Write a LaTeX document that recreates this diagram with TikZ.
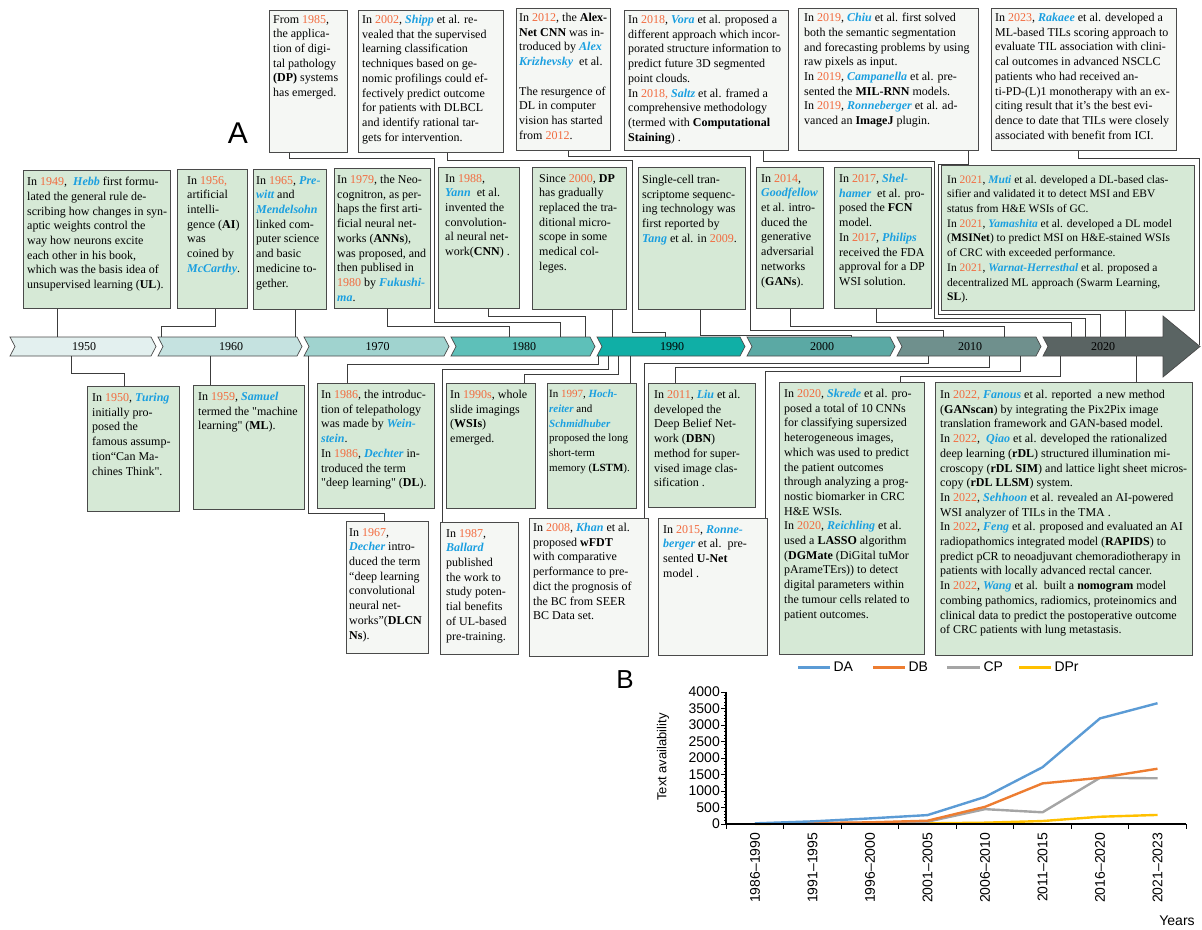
\documentclass[tikz,border=0pt]{standalone}
\usepackage{fontspec}
\setmainfont{Liberation Serif}
\newfontfamily\chartfont{Liberation Sans}
\definecolor{yearred}{HTML}{F26B3F}
\definecolor{nameblue}{HTML}{1A9FE0}
\definecolor{boxgreen}{HTML}{D6E9D6}
\definecolor{boxwhite}{HTML}{F5F7F4}
\definecolor{boxline}{HTML}{4A4A4A}
\definecolor{connline}{HTML}{3C3C3C}
\definecolor{c1950}{HTML}{E3F0EF}
\definecolor{c1960}{HTML}{C5E2E0}
\definecolor{c1970}{HTML}{A0D3CF}
\definecolor{c1980}{HTML}{5EC0B9}
\definecolor{c1990}{HTML}{10AFA6}
\definecolor{c2000}{HTML}{5BA9A4}
\definecolor{c2010}{HTML}{6F908D}
\definecolor{c2020}{HTML}{5A6463}
\definecolor{da}{HTML}{5B9BD5}
\definecolor{db}{HTML}{ED7D31}
\definecolor{cp}{HTML}{A5A5A5}
\definecolor{dpr}{HTML}{FFC000}
\newcommand{\yr}[1]{{\color{yearred}#1}}
\newcommand{\nm}[1]{{\color{nameblue}\bfseries\itshape #1}}

\begin{document}
\begin{tikzpicture}[x=1pt,y=-1pt,
  wbox/.style={draw=boxline, fill=boxwhite, line width=1.1pt, inner sep=0pt, anchor=north west},
  gbox/.style={draw=boxline, fill=boxgreen, line width=1.1pt, inner sep=0pt, anchor=north west},
  txt/.style={anchor=north west, align=left, inner sep=0pt, font=\fontsize{12}{14.7}\selectfont},
  conn/.style={draw=connline, line width=0.9pt},
  chev/.style={draw=boxline, line width=0.7pt},
  yearlab/.style={font=\fontsize{12}{14}\selectfont, inner sep=0pt}]
\useasboundingbox (0,0) rectangle (1202,929);

\node[font=\chartfont\fontsize{30}{32}\selectfont] (lblA) at (238,133) {A};
\node[font=\chartfont\fontsize{26}{28}\selectfont] (lblB) at (625,680) {B};

\foreach \s/\n/\lab in {10/158/1950, 158/304/1960, 304/451/1970, 451/597/1980, 597/747/1990, 747/897/2000, 897/1043/2010}{
  \draw[chev, fill=c\lab] (\s,337) -- (\n-7,337) -- (\n-2,346.5) -- (\n-7,356) -- (\s,356) -- (\s+5,346.5) -- cycle;
  \node[yearlab] (d\lab) at ({(\s+\n)/2},347) {\lab};
}
\draw[chev, fill=c2020] (1043,337) -- (1163,337) -- (1163,316) -- (1200,346.5) -- (1163,377) -- (1163,356) -- (1043,356) -- (1048,346.5) -- cycle;
\node[yearlab] (d2020) at (1103,347) {2020};

\coordinate (e1949) at (57,337);
\coordinate (e1956) at (161,337);
\coordinate (e1965) at (295,337);
\coordinate (e1979) at (509,337);
\coordinate (e1985) at (560,337);
\coordinate (e1988) at (585,337);
\coordinate (e2000) at (612,337);
\coordinate (e2002) at (665,337);
\coordinate (e2009) at (851,337);
\coordinate (e2012) at (943,337);
\coordinate (e2014) at (1004,337);
\coordinate (e2017) at (1071,337);
\coordinate (e2018) at (1085,337);
\coordinate (e2019) at (1100,337);
\coordinate (e2021) at (1125,337);
\coordinate (e2023) at (1199,345);
\coordinate (f1950) at (71,356);
\coordinate (f1959) at (210,356);
\coordinate (f1967) at (308,356);
\coordinate (f1986) at (598,356);
\coordinate (f1987) at (608,356);
\coordinate (f1990) at (618,356);
\coordinate (f1997) at (630,356);
\coordinate (f2008) at (928,356);
\coordinate (f2011) at (989,356);
\coordinate (f2015) at (1020,356);
\coordinate (f2020) at (1060,356);
\coordinate (f2022) at (1136,356);

\node[wbox, minimum width=78pt, minimum height=142pt] (t1) at (269,10) {};
\node[txt] (t1x) at ([shift={(4pt,-5pt)}]t1.north west) {From \yr{1985},\\the applica-\\tion of digi-\\tal pathology\\\textbf{(DP)} systems\\has emerged.};
\node[wbox, minimum width=145pt, minimum height=142pt] (t2) at (358,10) {};
\node[txt] (t2x) at ([shift={(4pt,-5pt)}]t2.north west) {In \yr{2002}, \nm{Shipp} et al. re-\\vealed that the supervised\\learning classification\\techniques based on ge-\\nomic profilings could ef-\\fectively predict outcome\\for patients with DLBCL\\and identify rational tar-\\gets for intervention.};
\node[wbox, minimum width=94pt, minimum height=142pt] (t3) at (516,8) {};
\node[txt] (t3x) at ([shift={(3pt,-5pt)}]t3.north west) {In \yr{2012}, the \textbf{Alex-}\\\textbf{Net CNN} was in-\\troduced by \nm{Alex}\\\nm{Krizhevsky}\ \ et al.\\[14.7pt]The resurgence of\\DL in computer\\vision has started\\from \yr{2012}.};
\node[wbox, minimum width=164pt, minimum height=140pt] (t4) at (624,10) {};
\node[txt] (t4x) at ([shift={(4pt,-5pt)}]t4.north west) {In \yr{2018}, \nm{Vora} et al. proposed a\\different approach which incor-\\porated structure information to\\predict future 3D segmented\\point clouds.\\In \yr{2018,} \nm{Saltz} et al. framed a\\comprehensive methodology\\(termed with \textbf{Computational}\\\textbf{Staining}) .};
\node[wbox, minimum width=180pt, minimum height=142pt] (t5) at (798,8) {};
\node[txt] (t5x) at ([shift={(6pt,-5pt)}]t5.north west) {In \yr{2019}, \nm{Chiu} et al. first solved\\both the semantic segmentation\\and forecasting problems by using\\raw pixels as input.\\In \yr{2019}, \nm{Campanella} et al. pre-\\sented the \textbf{MIL-RNN} models.\\In \yr{2019}, \nm{Ronneberger} et al. ad-\\vanced an \textbf{ImageJ} plugin.};
\node[wbox, minimum width=185pt, minimum height=142pt] (t6) at (991,8) {};
\node[txt] (t6x) at ([shift={(4pt,-5pt)}]t6.north west) {In \yr{2023}, \nm{Rakaee} et al. developed a\\ML-based TILs scoring approach to\\evaluate TIL association with clini-\\cal outcomes in advanced NSCLC\\patients who had received an-\\ti-PD-(L)1 monotherapy with an ex-\\citing result that it's the best evi-\\dence to date that TILs were closely\\associated with benefit from ICI.};

\node[gbox, minimum width=147pt, minimum height=138pt] (m1) at (23,170) {};
\node[txt] (m1x) at ([shift={(4pt,-7pt)}]m1.north west) {In \yr{1949},\ \ \nm{Hebb} first formu-\\lated the general rule de-\\scribing how changes in syn-\\aptic weights control the\\way how neurons excite\\each other in his book,\\which was the basis idea of\\unsupervised learning (\textbf{UL}).};
\node[gbox, minimum width=70pt, minimum height=139pt] (m2) at (177,169) {};
\node[txt] (m2x) at ([shift={(10pt,-7pt)}]m2.north west) {In \yr{1956,}\\artificial\\intelli-\\gence (\textbf{AI})\\was\\coined by\\\nm{McCarthy}.};
\node[gbox, minimum width=73pt, minimum height=140pt] (m3) at (253,169) {};
\node[txt] (m3x) at ([shift={(3pt,-7pt)}]m3.north west) {In \yr{1965}, \nm{Pre-}\\\nm{witt} and\\\nm{Mendelsohn}\\linked com-\\puter science\\and basic\\medicine to-\\gether.};
\node[gbox, minimum width=96pt, minimum height=140pt] (m4) at (334,168) {};
\node[txt] (m4x) at ([shift={(3pt,-7pt)}]m4.north west) {In \yr{1979}, the Neo-\\cognitron, as per-\\haps the first arti-\\ficial neural net-\\works (\textbf{ANNs}),\\was proposed, and\\then publised in\\\yr{1980} by \nm{Fukushi-}\\\nm{ma}.};
\node[gbox, minimum width=81pt, minimum height=141pt] (m5) at (438,167) {};
\node[txt] (m5x) at ([shift={(7pt,-7pt)}]m5.north west) {In \yr{1988},\\\nm{Yann}\ \ et al.\\invented the\\convolution-\\al neural net-\\work(\textbf{CNN}) .};
\node[gbox, minimum width=94pt, minimum height=142pt] (m6) at (532,167) {};
\node[txt] (m6x) at ([shift={(7pt,-7pt)}]m6.north west) {Since \yr{2000}, \textbf{DP}\\has gradually\\replaced the tra-\\ditional micro-\\scope in some\\medical col-\\leges.};
\node[gbox, minimum width=107pt, minimum height=142pt] (m7) at (638,167) {};
\node[txt] (m7x) at ([shift={(4pt,-8pt)}]m7.north west) {Single-cell tran-\\scriptome sequenc-\\ing technology was\\first reported by\\\nm{Tang} et al. in \yr{2009}.};
\node[gbox, minimum width=67pt, minimum height=141pt] (m8) at (756,167) {};
\node[txt] (m8x) at ([shift={(5pt,-7pt)}]m8.north west) {In \yr{2014},\\\nm{Goodfellow}\\et al. intro-\\duced the\\generative\\adversarial\\networks\\(\textbf{GANs}).};
\node[gbox, minimum width=97pt, minimum height=141pt] (m9) at (834,167) {};
\node[txt] (m9x) at ([shift={(5pt,-7pt)}]m9.north west) {In \yr{2017}, \nm{Shel-}\\\nm{hamer}\ \ et al. pro-\\posed the \textbf{FCN}\\model.\\In \yr{2017}, \nm{Philips}\\received the FDA\\approval for a DP\\WSI solution.};
\node[gbox, minimum width=253pt, minimum height=145pt] (m10) at (941,165) {};
\node[txt, font=\fontsize{11.5}{14.7}\selectfont] (m10x) at ([shift={(6pt,-10pt)}]m10.north west) {In \yr{2021}, \nm{Muti} et al. developed a DL-based clas-\\sifier and validated it to detect MSI and EBV\\status from H\&E WSIs of GC.\\In \yr{2021}, \nm{Yamashita} et al. developed a DL model\\(\textbf{MSINet}) to predict MSI on H\&E-stained WSIs\\of CRC with exceeded performance.\\In \yr{2021}, \nm{Warnat-Herresthal} et al. proposed a\\decentralized ML approach (Swarm Learning,\\\textbf{SL}).};

\node[gbox, minimum width=92pt, minimum height=125pt] (b1) at (87,386) {};
\node[txt] (b1x) at ([shift={(5pt,-7pt)}]b1.north west) {In \yr{1950}, \nm{Turing}\\initially pro-\\posed the\\famous assump-\\tion“Can Ma-\\chines Think\textquotedbl.};
\node[gbox, minimum width=111pt, minimum height=124pt] (b2) at (193,385) {};
\node[txt] (b2x) at ([shift={(5pt,-7pt)}]b2.north west) {In \yr{1959}, \nm{Samuel}\\termed the \textquotedbl machine\\learning\textquotedbl\ (\textbf{ML}).};
\node[gbox, minimum width=117pt, minimum height=125pt] (b3) at (317,383) {};
\node[txt] (b3x) at ([shift={(4pt,-7pt)}]b3.north west) {In \yr{1986}, the introduc-\\tion of telepathology\\was made by \nm{Wein-}\\\nm{stein}.\\In \yr{1986}, \nm{Dechter} in-\\troduced the term\\\textquotedbl deep learning\textquotedbl\ (\textbf{DL}).};
\node[gbox, minimum width=89pt, minimum height=125pt] (b4) at (446,383) {};
\node[txt] (b4x) at ([shift={(4pt,-7pt)}]b4.north west) {In \yr{1990s}, whole\\slide imagings\\(\textbf{WSIs})\\emerged.};
\node[gbox, minimum width=89pt, minimum height=125pt] (b5) at (547,383) {};
\node[txt, font=\fontsize{11}{14.7}\selectfont] (b5x) at ([shift={(2pt,-7pt)}]b5.north west) {In \yr{1997}, \nm{Hoch-}\\\nm{reiter} and\\\nm{Schmidhuber}\\proposed the long\\short-term\\memory (\textbf{LSTM}).};
\node[gbox, minimum width=107pt, minimum height=124pt] (b6) at (648,383) {};
\node[txt] (b6x) at ([shift={(6pt,-7pt)}]b6.north west) {In \yr{2011}, \nm{Liu} et al.\\developed the\\Deep Belief Net-\\work (\textbf{DBN})\\method for super-\\vised image clas-\\sification .};
\node[gbox, minimum width=145pt, minimum height=272pt] (b7) at (779,382) {};
\node[txt] (b7x) at ([shift={(5pt,-7pt)}]b7.north west) {In \yr{2020}, \nm{Skrede} et al. pro-\\posed a total of 10 CNNs\\for classifying supersized\\heterogeneous images,\\which was used to predict\\the patient outcomes\\through analyzing a prog-\\nostic biomarker in CRC\\H\&E WSIs.\\In \yr{2020}, \nm{Reichling} et al.\\used a \textbf{LASSO} algorithm\\(\textbf{DGMate} (DiGital tuMor\\pArameTErs)) to detect\\digital parameters within\\the tumour cells related to\\patient outcomes.};
\node[gbox, minimum width=257pt, minimum height=273pt] (b8) at (935,382) {};
\node[txt] (b8x) at ([shift={(5pt,-8pt)}]b8.north west) {In \yr{2022,} \nm{Fanous} et al. reported\ \ a new method\\(\textbf{GANscan}) by integrating the Pix2Pix image\\translation framework and GAN-based model.\\In \yr{2022},\ \ \nm{Qiao} et al. developed the rationalized\\deep learning (\textbf{rDL}) structured illumination mi-\\croscopy (\textbf{rDL SIM}) and lattice light sheet micros-\\copy (\textbf{rDL LLSM}) system.\\In \yr{2022}, \nm{Sehhoon} et al. revealed an AI-powered\\WSI analyzer of TILs in the TMA .\\In \yr{2022}, \nm{Feng} et al. proposed and evaluated an AI\\radiopathomics integrated model (\textbf{RAPIDS}) to\\predict pCR to neoadjuvant chemoradiotherapy in\\patients with locally advanced rectal cancer.\\In \yr{2022}, \nm{Wang} et al.\ \ built a \textbf{nomogram} model\\combing pathomics, radiomics, proteinomics and\\clinical data to predict the postoperative outcome\\of CRC patients with lung metastasis.};

\node[wbox, minimum width=82pt, minimum height=132pt] (l1) at (346,521) {};
\node[txt] (l1x) at ([shift={(3pt,-7pt)}]l1.north west) {In \yr{1967},\\\nm{Decher} intro-\\duced the term\\“deep learning\\convolutional\\neural net-\\works”(\textbf{DLCN}\\\textbf{Ns}).};
\node[wbox, minimum width=78pt, minimum height=132pt] (l2) at (440,522) {};
\node[txt] (l2x) at ([shift={(6pt,-7pt)}]l2.north west) {In \yr{1987},\\\nm{Ballard}\\published\\the work to\\study poten-\\tial benefits\\of UL-based\\pre-training.};
\node[wbox, minimum width=119pt, minimum height=138pt] (l3) at (529,518) {};
\node[txt] (l3x) at ([shift={(4pt,-5pt)}]l3.north west) {In \yr{2008}, \nm{Khan} et al.\\proposed \textbf{wFDT}\\with comparative\\performance to pre-\\dict the prognosis of\\the BC from SEER\\BC Data set.};
\node[wbox, minimum width=109pt, minimum height=137pt] (l4) at (658,518) {};
\node[txt] (l4x) at ([shift={(5pt,-7pt)}]l4.north west) {In \yr{2015}, \nm{Ronne-}\\\nm{berger} et al.\ \ pre-\\sented \textbf{U-Net}\\model .};

\draw[conn] ([xshift=20pt]t1.south west) -- ++(0,5) -| ++(145,164) -| (e1985);
\draw[conn] ([xshift=89pt]t2.south west) -- ++(0,7) -| ++(185,172) -| (e2002);
\draw[conn] ([xshift=52pt]t3.south west) -- ++(0,5) -| ++(182,174) -| (e2012);
\draw[conn] ([xshift=139pt]t4.south west) -- ++(0,10) -| ++(171,157) -| (e2018);
\draw[conn] ([xshift=170pt]t5.south west) -- ++(0,13) -| ++(-30,150) -| (e2019);
\draw[conn] ([xshift=87pt]t6.south west) -- ++(0,7) -| (e2023);
\draw[conn] ([xshift=34pt]m1.south west) -- (e1949);
\draw[conn] ([xshift=38pt]m2.south west) -- ++(0,17) -| (e1956);
\draw[conn] ([xshift=42pt]m3.south west) -- (e1965);
\draw[conn] ([xshift=53pt]m4.south west) -- ++(0,17) -| (e1979);
\draw[conn] ([xshift=50pt]m5.south west) -- ++(0,7) -| (e1988);
\draw[conn] ([xshift=80pt]m6.south west) -- (e2000);
\draw[conn] ([xshift=62pt]m7.south west) -- ++(0,25) -| (e2009);
\draw[conn] ([xshift=34pt]m8.south west) -- ++(0,17) -| (e2014);
\draw[conn] ([xshift=42pt]m9.south west) -- ++(0,13) -| (e2017);
\draw[conn] ([xshift=184pt]m10.south west) -- (e2021);
\draw[conn] ([xshift=37pt]b1.north west) -- ++(0,-13) -| (f1950);
\draw[conn] ([xshift=17pt]b2.north west) -- (f1959);
\draw[conn] ([xshift=38pt]l1.north west) -- ++(0,-8) -| (f1967);
\draw[conn] ([xshift=30pt]b3.north west) -- ++(0,-19) -| (f1986);
\draw[conn] ([xshift=2pt]l2.north west) -- ++(0,-153) -| (f1987);
\draw[conn] ([xshift=78pt]b4.north west) -- ++(0,-9) -| (f1990);
\draw[conn] ([xshift=83pt]b5.north west) -- (f1997);
\draw[conn] ([xshift=115pt]l3.north west) -- ++(0,-155) -| (f2008);
\draw[conn] ([xshift=27pt]b6.north west) -- ++(0,-16) -| (f2011);
\draw[conn] ([xshift=107pt]l4.north west) -- ++(0,-147) -| (f2015);
\draw[conn] ([xshift=121pt]b7.north west) -- ++(0,-6) -| (f2020);
\draw[conn] ([xshift=201pt]b8.north west) -- (f2022);

\begin{scope}[font=\chartfont\fontsize{14}{16}\selectfont]
\draw[da, line width=3pt] (798,667) -- (830,667) node[right, inner sep=2pt, black] (legda) {DA};
\draw[db, line width=3pt] (873,667) -- (905,667) node[right, inner sep=2pt, black] (legdb) {DB};
\draw[cp, line width=3pt] (947,667) -- (980,667) node[right, inner sep=2pt, black] (legcp) {CP};
\draw[dpr, line width=3pt] (1019,667) -- (1051,667) node[right, inner sep=2pt, black] (legdpr) {DPr};
\node[rotate=90, font=\chartfont\fontsize{13}{15}\selectfont] (ytitle) at (663,757) {Text availability};
\node (xtitle) at (1177,921) {Years};
\end{scope}

\begin{scope}[shift={(726,824)}, x=1pt, y=0.033pt, font=\chartfont\fontsize{14}{15}\selectfont]
\foreach \v in {0,100,...,4000} \draw[line width=0.6pt] (0,\v) -- (-2.5,\v);
\foreach \v in {0,500,...,4000}{
  \draw[line width=0.8pt] (0,\v) -- (-5,\v);
  \node[anchor=east, inner sep=1pt] (yt\v) at (-5,\v) {\v};
}
\foreach \i in {0,...,8} \draw[line width=1pt] (\i*57.5,0) -- (\i*57.5,-160);
\foreach \lab [count=\i from 0] in {1986–1990,1991–1995,1996–2000,2001–2005,2006–2010,2011–2015,2016–2020,2021–2023}
  \node[rotate=90, anchor=east, inner sep=1pt] (xt\i) at (29+\i*57.5,-230) {\lab};
\draw[dpr, line width=2.4pt, line join=round] plot coordinates {(29,5) (86.5,10) (144,15) (201.5,20) (259,40) (316.5,90) (374,220) (431.5,275)};
\draw[cp, line width=2.4pt, line join=round] plot coordinates {(29,10) (86.5,20) (144,40) (201.5,70) (259,450) (316.5,355) (374,1400) (431.5,1385)};
\draw[db, line width=2.4pt, line join=round] plot coordinates {(29,10) (86.5,30) (144,50) (201.5,100) (259,520) (316.5,1230) (374,1400) (431.5,1675)};
\draw[da, line width=2.4pt, line join=round] plot coordinates {(29,20) (86.5,80) (144,170) (201.5,270) (259,820) (316.5,1720) (374,3200) (431.5,3660)};
\draw[line width=1.8pt] (0,4000) -- (0,0) -- (460,0);
\end{scope}
\end{tikzpicture}
\end{document}
